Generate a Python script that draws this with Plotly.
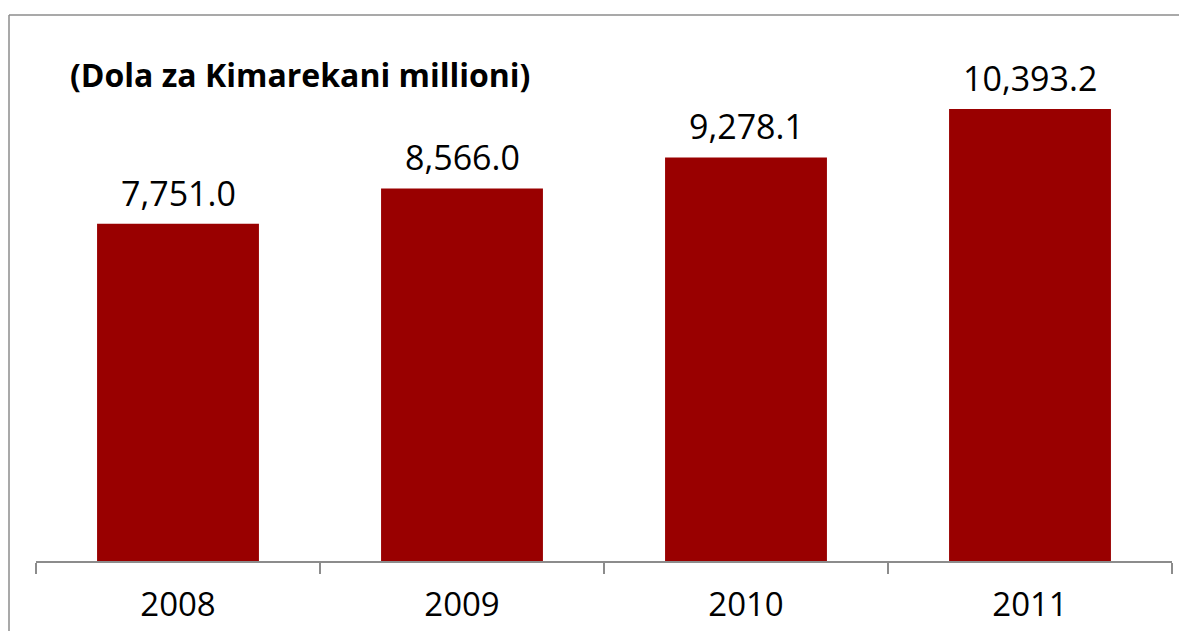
import plotly.graph_objects as go

years = ["2008", "2009", "2010", "2011"]
values = [7751.0, 8566.0, 9278.1, 10393.2]
value_labels = ["7,751.0", "8,566.0", "9,278.1", "10,393.2"]
title_text = "(Dola za Kimarekani millioni)"

OFF = 8  # page body margin offset
W, H = 1187 - OFF, 631 - OFF
L, R, T, B = 36 - OFF, 15, 39 - OFF, 70
pw, ph = W - L - R, H - T - B

def px_to_paper_x(px):
    return (px - OFF - L) / pw

def py_to_paper_y(py):
    return (H - B - (py - OFF)) / ph

fig = go.Figure()
fig.add_trace(go.Bar(
    x=years, y=values,
    marker=dict(color="#990000", line=dict(width=0)),
    hoverinfo="skip",
))

for i, (v, lab) in enumerate(zip(values, value_labels)):
    fig.add_annotation(
        x=i, y=v, text=lab, showarrow=False,
        xref="x", yref="y", yanchor="bottom", yshift=6,
        font=dict(family="Open Sans", size=34, color="#000000"),
    )

fig.add_annotation(
    x=px_to_paper_x(68), y=py_to_paper_y(74), xref="paper", yref="paper",
    xanchor="left", yanchor="middle", text="<b>" + title_text + "</b>",
    showarrow=False, font=dict(family="Open Sans", size=32, color="#000000"),
)

# chart border (left and top visible)
bx0 = px_to_paper_x(9)
by1 = py_to_paper_y(15)
fig.add_shape(type="line", xref="paper", yref="paper",
              x0=bx0, x1=px_to_paper_x(1200), y0=by1, y1=by1,
              line=dict(color="#8c8c8c", width=1.5))
fig.add_shape(type="line", xref="paper", yref="paper",
              x0=bx0, x1=bx0, y0=by1, y1=py_to_paper_y(640),
              line=dict(color="#8c8c8c", width=1.5))

fig.update_layout(
    width=W, height=H,
    margin=dict(l=L, r=R, t=T, b=B, autoexpand=False),
    paper_bgcolor="white", plot_bgcolor="white",
    bargap=0.43, showlegend=False,
    xaxis=dict(
        type="category", showline=True, linecolor="#8c8c8c", linewidth=1.5,
        ticks="outside", tickson="boundaries", ticklen=11, tickcolor="#8c8c8c",
        tickwidth=1.5, ticklabelstandoff=14, tickangle=0, automargin=False,
        range=[-0.5, 3.5],
        tickfont=dict(family="Open Sans", size=33, color="#000000"),
        showgrid=False, zeroline=False,
    ),
    yaxis=dict(range=[0, 12000], visible=False, showgrid=False, zeroline=False),
)

fig.write_html("out.html")
